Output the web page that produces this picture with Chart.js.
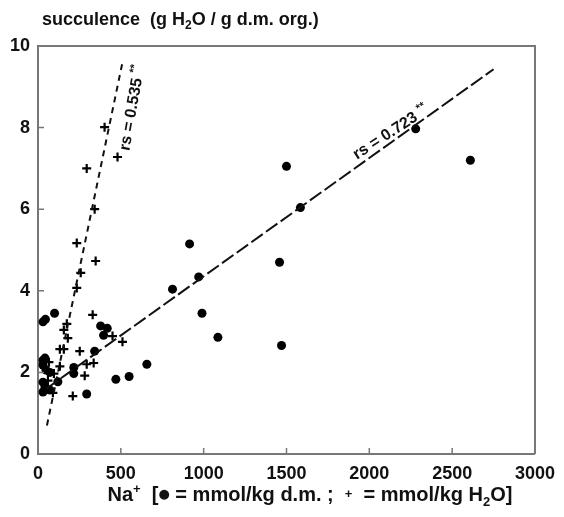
<!DOCTYPE html>
<html>
<head>
<meta charset="utf-8">
<script src="https://cdn.jsdelivr.net/npm/chart.js@4/dist/chart.umd.min.js"></script>
<style>
  html, body { margin: 0; padding: 0; background: #fff; }
  #chart { display: block; }
</style>
</head>
<body>
<canvas id="chart" width="564" height="517"></canvas>
<script>
// Na+ content vs. succulence
// dots: Na+ per dry matter, crosses: Na+ per tissue water
const naDry = [2610, 2280, 1500, 1584, 1458, 1470, 1086, 990, 970, 915, 812, 657, 550, 470,
               378, 418, 396, 342, 100, 30, 45, 42, 30, 30, 48, 72, 216, 216, 120, 30, 42, 30, 72, 294];
const succDry = [7.2, 7.97, 7.05, 6.04, 4.7, 2.66, 2.86, 3.45, 4.34, 5.15, 4.04, 2.2, 1.9, 1.83,
                 3.14, 3.08, 2.91, 2.52, 3.45, 3.24, 3.3, 2.35, 2.3, 2.18, 2.06, 2.0, 2.12, 1.97, 1.77, 1.76, 1.64, 1.52, 1.57, 1.47];

const naWater = [402, 480, 294, 342, 234, 348, 258, 234, 330, 174, 156, 180, 450, 510,
                 132, 156, 252, 132, 66, 294, 336, 282, 96, 60, 210, 90];
const succWater = [8.01, 7.28, 7.0, 6.0, 5.17, 4.73, 4.44, 4.07, 3.41, 3.19, 3.04, 2.84, 2.89, 2.75,
                   2.57, 2.57, 2.52, 2.15, 2.25, 2.2, 2.23, 1.92, 1.97, 1.8, 1.42, 1.5];

// regression lines (end points)
const fitDryX = [50, 2750];
const fitDryY = [1.6, 9.43];
const fitWaterX = [54, 510];
const fitWaterY = [0.7, 9.6];

const xTicks = [0, 500, 1000, 1500, 2000, 2500, 3000];
const yTicks = [0, 2, 4, 6, 8, 10];

const FONT = "'Liberation Sans', Arial, sans-serif";

function pairs(xs, ys) {
    return xs.map((x, i) => ({ x: x, y: ys[i] }));
}

// draws a run of text pieces (with sub/superscripts) starting at x
function drawParts(ctx, parts, x, y, align) {
    let total = 0;
    parts.forEach(p => {
        ctx.font = "bold " + p.size + "px " + (p.family || FONT);
        p.w = ctx.measureText(p.t).width;
        total += p.w;
    });
    let cx = align === "center" ? x - total / 2 : x;
    parts.forEach(p => {
        ctx.font = "bold " + p.size + "px " + (p.family || FONT);
        ctx.fillText(p.t, cx, y + (p.dy || 0));
        cx += p.w;
    });
}

const decorations = {
    id: "decorations",
    afterDraw(chart) {
        const ctx = chart.ctx;
        const a = chart.chartArea;
        const xs = chart.scales.x, ys = chart.scales.y;
        ctx.save();

        // box: top and right edges
        ctx.strokeStyle = "#777";
        ctx.lineWidth = 2;
        ctx.beginPath();
        ctx.moveTo(a.left, a.top);
        ctx.lineTo(a.right, a.top);
        ctx.lineTo(a.right, a.bottom);
        ctx.stroke();

        // inward tick marks
        ctx.lineWidth = 1.5;
        ctx.beginPath();
        xTicks.slice(1, -1).forEach(v => {
            const px = xs.getPixelForValue(v);
            ctx.moveTo(px, a.bottom);
            ctx.lineTo(px, a.bottom - 6);
        });
        yTicks.slice(1, -1).forEach(v => {
            const py = ys.getPixelForValue(v);
            ctx.moveTo(a.left, py);
            ctx.lineTo(a.left + 6, py);
        });
        ctx.stroke();

        ctx.fillStyle = "#111";
        ctx.textBaseline = "alphabetic";
        ctx.textAlign = "left";

        // y axis title
        drawParts(ctx, [
            { t: "succulence  (g H", size: 18 },
            { t: "2", size: 12, dy: 4 },
            { t: "O / g d.m. org.)", size: 18 }
        ], 42, 25, "left");

        // x axis title
        drawParts(ctx, [
            { t: "Na", size: 20 },
            { t: "+", size: 13, dy: -8 },
            { t: "  [", size: 20 },
            { t: "●", size: 13, dy: -3, family: "'DejaVu Sans', sans-serif" },
            { t: " = mmol/kg d.m. ;  ", size: 20 },
            { t: "+", size: 13, dy: -3 },
            { t: "  = mmol/kg H", size: 20 },
            { t: "2", size: 13, dy: 5 },
            { t: "O]", size: 20 }
        ], 310, 501, "center");

        // correlation labels along the fitted lines
        const labels = [
            { x: 2130, y: 7.88, rot: -33, text: "rs = 0.723" },
            { x: 570, y: 8.48, rot: -80, text: "rs = 0.535" }
        ];
        labels.forEach(l => {
            ctx.save();
            ctx.translate(xs.getPixelForValue(l.x), ys.getPixelForValue(l.y));
            ctx.rotate(l.rot * Math.PI / 180);
            ctx.textBaseline = "middle";
            drawParts(ctx, [
                { t: l.text + " ", size: 16 },
                { t: "**", size: 11, dy: -5 }
            ], 0, 0, "center");
            ctx.restore();
        });

        ctx.restore();
    }
};

const ctx = document.getElementById("chart");

new Chart(ctx, {
    type: "scatter",
    data: {
        datasets: [
            {
                label: "fit d.m.",
                data: pairs(fitDryX, fitDryY),
                showLine: true,
                borderColor: "#111",
                borderWidth: 2,
                borderDash: [14, 4],
                pointRadius: 0
            },
            {
                label: "fit H2O",
                data: pairs(fitWaterX, fitWaterY),
                showLine: true,
                borderColor: "#111",
                borderWidth: 2,
                borderDash: [6, 5],
                pointRadius: 0
            },
            {
                label: "mmol/kg d.m.",
                data: pairs(naDry, succDry),
                pointStyle: "circle",
                pointRadius: 4.5,
                backgroundColor: "#000",
                borderColor: "#000",
                borderWidth: 0
            },
            {
                label: "mmol/kg H2O",
                data: pairs(naWater, succWater),
                pointStyle: "cross",
                pointRadius: 4.5,
                borderColor: "#000",
                borderWidth: 2.2
            }
        ]
    },
    options: {
        responsive: false,
        animation: false,
        devicePixelRatio: 1,
        layout: { padding: { top: 46, right: 26, left: 0, bottom: 0 } },
        plugins: {
            legend: { display: false },
            tooltip: { enabled: false }
        },
        scales: {
            x: {
                type: "linear",
                min: 0,
                max: 3000,
                afterFit: s => { s.height = 63; },
                afterBuildTicks: s => { s.ticks = xTicks.map(v => ({ value: v })); },
                ticks: {
                    color: "#111",
                    padding: 9,
                    maxRotation: 0,
                    callback: v => String(v),
                    font: { family: FONT, size: 18, weight: "bold" }
                },
                grid: { drawOnChartArea: false, drawTicks: false },
                border: { display: true, color: "#777", width: 2 }
            },
            y: {
                type: "linear",
                min: 0,
                max: 10,
                afterFit: s => { s.width = 38; },
                afterBuildTicks: s => { s.ticks = yTicks.map(v => ({ value: v })); },
                ticks: {
                    color: "#111",
                    padding: 8,
                    callback: v => String(v),
                    font: { family: FONT, size: 18, weight: "bold" }
                },
                grid: { drawOnChartArea: false, drawTicks: false },
                border: { display: true, color: "#777", width: 2 }
            }
        }
    },
    plugins: [decorations]
});
</script>
</body>
</html>
